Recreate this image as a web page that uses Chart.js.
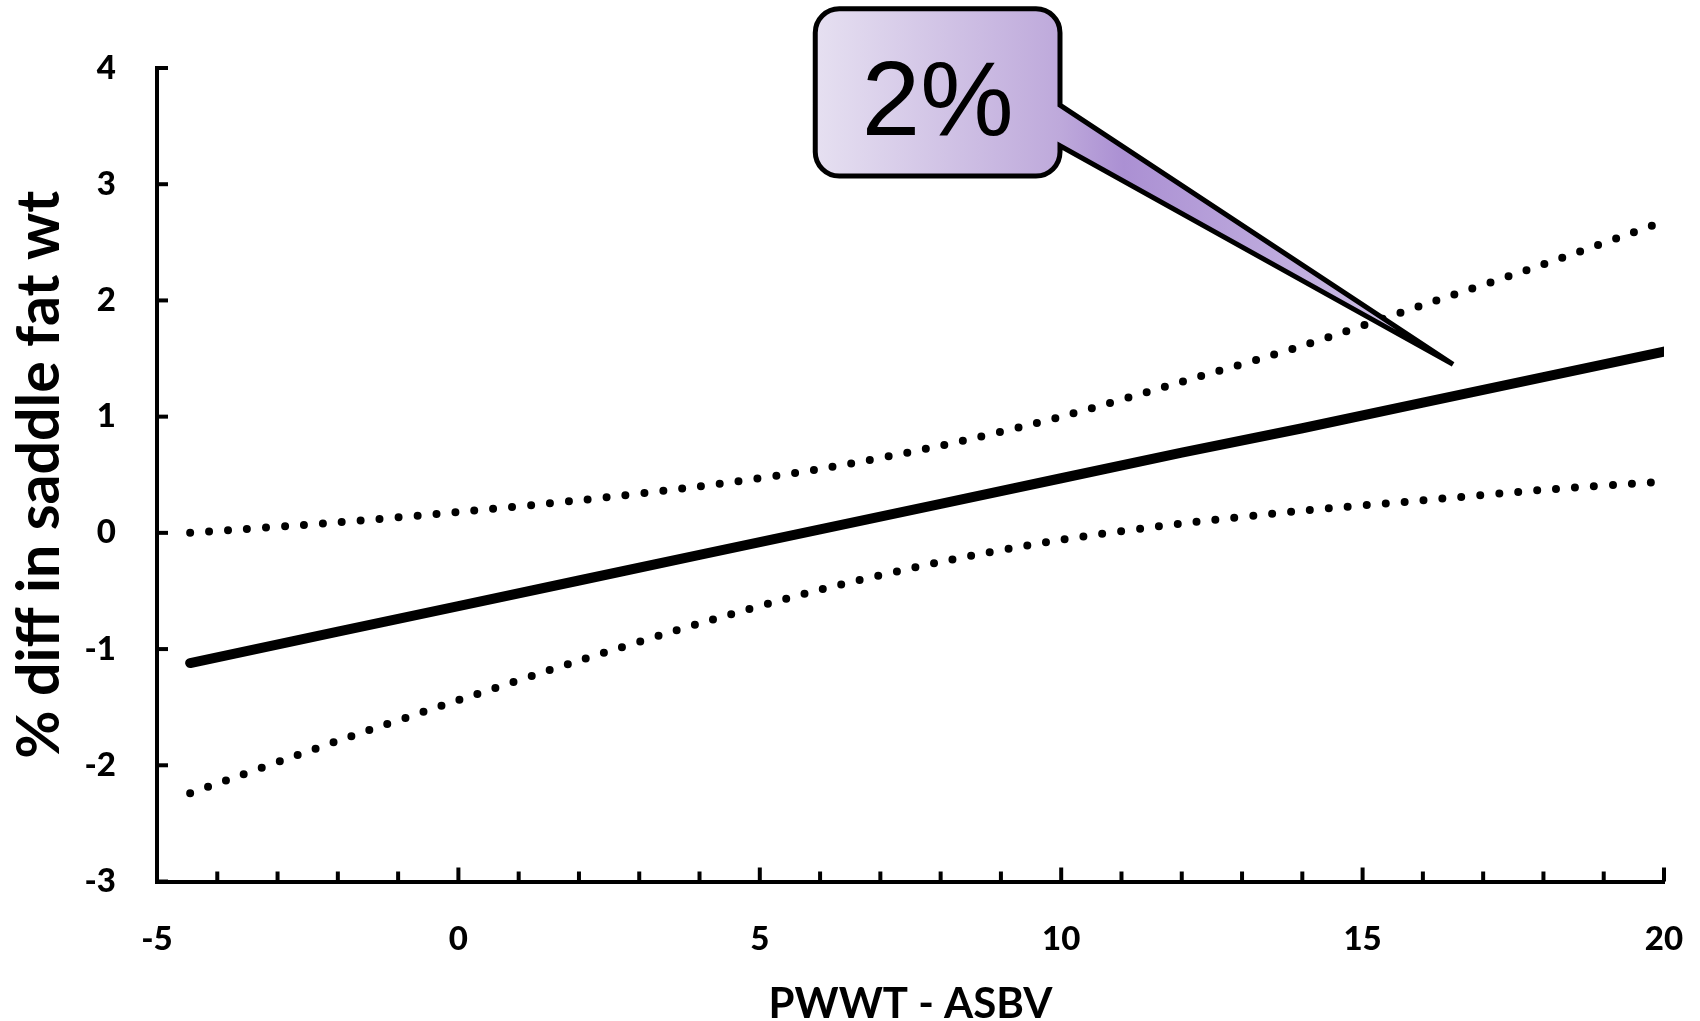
<!DOCTYPE html>
<html>
<head>
<meta charset="utf-8">
<script src="https://cdn.jsdelivr.net/npm/chart.js@4.4.1/dist/chart.umd.min.js"></script>
<style>
  html, body { margin: 0; padding: 0; background: #fff; }
</style>
</head>
<body>
<canvas id="fatChart" width="1700" height="1021"></canvas>
<script>
// values
const xValues = [-4.45, -2, 0, 2, 4, 6, 8, 10, 12, 14, 16, 18, 20];
const fitLine = [-1.12, -0.85, -0.63, -0.41, -0.19, 0.03, 0.25, 0.47, 0.69, 0.90, 1.12, 1.34, 1.56];
const upperLimit = [0.00, 0.09, 0.18, 0.28, 0.40, 0.55, 0.75, 1.00, 1.30, 1.61, 1.96, 2.31, 2.68];
const lowerLimit = [-2.24, -1.79, -1.44, -1.10, -0.78, -0.49, -0.25, -0.06, 0.08, 0.19, 0.28, 0.37, 0.44];

const xMajorTicks = [-5, 0, 5, 10, 15, 20];
const xMinorStep = 1;
const yTicks = [-3, -2, -1, 0, 1, 2, 3, 4];

const calloutText = '2%';
// callout anchored in data units
const calloutAnchor = { left: 5.92, right: 9.98, top: 4.51, bottom: 3.07, tailTop: 3.68, tailBottom: 3.33, tipX: 16.5, tipY: 1.45 };

const toPoints = ys => xValues.map((x, i) => ({ x: x, y: ys[i] }));

// ticks drawn inside the plot, like the original
const innerTicks = {
    id: 'innerTicks',
    afterDraw(chart) {
        const { ctx, scales: { x, y } } = chart;
        ctx.save();
        ctx.strokeStyle = '#000';
        ctx.lineWidth = 4;
        for (let v = x.min + xMinorStep; v <= x.max + 1e-9; v += xMinorStep) {
            const px = x.getPixelForValue(v);
            const len = Math.abs(v % 5) < 1e-9 ? 14 : 10;
            ctx.beginPath();
            ctx.moveTo(px, x.top);
            ctx.lineTo(px, x.top - len);
            ctx.stroke();
        }
        y.ticks.forEach(t => {
            const py = y.getPixelForValue(t.value);
            ctx.beginPath();
            ctx.moveTo(y.right, py);
            ctx.lineTo(y.right + 11, py);
            ctx.stroke();
        });
        ctx.restore();
    }
};

const callout = {
    id: 'callout',
    afterDatasetsDraw(chart) {
        const { ctx, scales: { x, y } } = chart;
        const a = calloutAnchor;
        const L = x.getPixelForValue(a.left), R = x.getPixelForValue(a.right);
        const T = y.getPixelForValue(a.top), B = y.getPixelForValue(a.bottom);
        const tT = y.getPixelForValue(a.tailTop), tB = y.getPixelForValue(a.tailBottom);
        const tipX = x.getPixelForValue(a.tipX), tipY = y.getPixelForValue(a.tipY);
        const r = 24;

        ctx.save();
        ctx.beginPath();
        ctx.moveTo(L + r, T);
        ctx.lineTo(R - r, T);
        ctx.arcTo(R, T, R, T + r, r);
        ctx.lineTo(R, tT);
        ctx.lineTo(tipX, tipY);
        ctx.lineTo(R, tB);
        ctx.lineTo(R, B - r);
        ctx.arcTo(R, B, R - r, B, r);
        ctx.lineTo(L + r, B);
        ctx.arcTo(L, B, L, B - r, r);
        ctx.lineTo(L, T + r);
        ctx.arcTo(L, T, L + r, T, r);
        ctx.closePath();

        const g = ctx.createLinearGradient(L, T, tipX, T);
        const f = (R - L) / (tipX - L);
        g.addColorStop(0, '#e6e0f1');
        g.addColorStop(f, '#bea9db');
        g.addColorStop(Math.min(1, f + 0.1), '#ab90d3');
        g.addColorStop(1, '#d2c7e8');
        ctx.fillStyle = g;
        ctx.fill();
        ctx.lineWidth = 5;
        ctx.strokeStyle = '#000';
        ctx.lineJoin = 'miter';
        ctx.stroke();

        ctx.fillStyle = '#000';
        ctx.font = '105px "Liberation Sans", Arial, sans-serif';
        ctx.textAlign = 'center';
        ctx.textBaseline = 'alphabetic';
        ctx.fillText(calloutText, (L + R) / 2, (T + B) / 2 + 43);
        ctx.restore();
    }
};

const tickFont = { family: 'Lato, "Open Sans", sans-serif', weight: 900, size: 33 };

const ctx = document.getElementById('fatChart').getContext('2d');
const fatChart = new Chart(ctx, {
    type: 'line',
    data: {
        datasets: [
            {
                label: 'fit',
                data: toPoints(fitLine),
                borderColor: '#000',
                borderWidth: 10,
                borderCapStyle: 'round',
                pointRadius: 0,
                clip: { left: false, top: false, right: 0, bottom: false },
            },
            {
                label: 'upper',
                data: toPoints(upperLimit),
                borderColor: '#000',
                borderWidth: 8,
                borderDash: [0, 19],
                borderCapStyle: 'round',
                pointRadius: 0,
                tension: 0.3,
                clip: false,
            },
            {
                label: 'lower',
                data: toPoints(lowerLimit),
                borderColor: '#000',
                borderWidth: 8,
                borderDash: [0, 19],
                borderCapStyle: 'round',
                pointRadius: 0,
                tension: 0.3,
                clip: false,
            },
        ],
    },
    options: {
        responsive: false,
        animation: false,
        layout: { padding: { top: 68, right: 36, bottom: 0, left: 0 } },
        plugins: {
            legend: { display: false },
            tooltip: { enabled: false },
        },
        scales: {
            x: {
                type: 'linear',
                min: -5,
                max: 20,
                afterBuildTicks: s => { s.ticks = xMajorTicks.map(v => ({ value: v })); },
                afterFit: s => { s.height = 139.5; s.paddingLeft = 0; s.paddingRight = 0; },
                grid: { display: false, drawTicks: false },
                border: { display: true, color: '#000', width: 4 },
                ticks: { color: '#000', font: tickFont, padding: 38, maxRotation: 0, autoSkip: false },
                title: {
                    display: true,
                    text: 'PWWT - ASBV',
                    color: '#000',
                    font: { family: 'Lato, "Open Sans", sans-serif', weight: 'bold', size: 42, lineHeight: 0.8 },
                    padding: { top: 0, bottom: 0 },
                },
            },
            y: {
                type: 'linear',
                min: -3,
                max: 4,
                afterBuildTicks: s => { s.ticks = yTicks.map(v => ({ value: v })); },
                afterFit: s => { s.width = 157; s.paddingTop = 0; s.paddingBottom = 0; },
                grid: { display: false, drawTicks: false },
                border: { display: true, color: '#000', width: 4 },
                ticks: { color: '#000', font: tickFont, padding: 41 },
                title: {
                    display: true,
                    text: '% diff in saddle fat wt',
                    color: '#000',
                    font: { family: 'Lato, "Open Sans", sans-serif', weight: 'bold', size: 59, lineHeight: 1 },
                    padding: { top: 10, bottom: 0 },
                },
            },
        },
    },
    plugins: [innerTicks, callout],
});
</script>
</body>
</html>
